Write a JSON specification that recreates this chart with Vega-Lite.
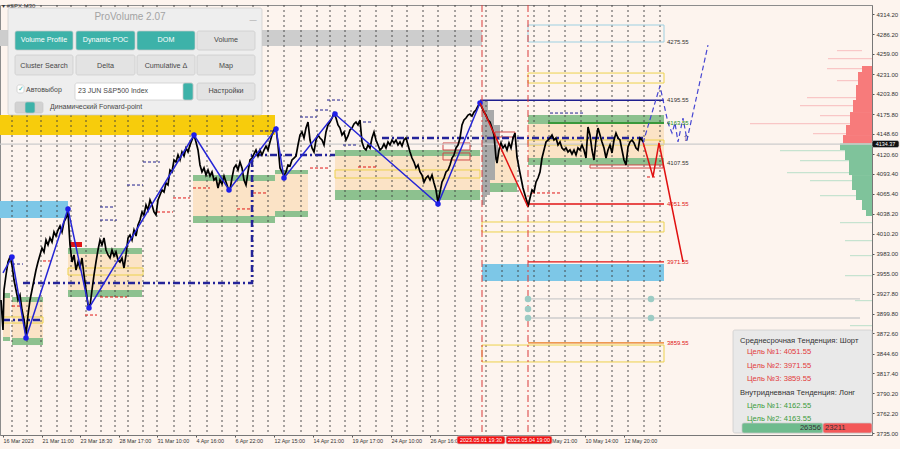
{
"$schema": "https://vega.github.io/schema/vega-lite/v6.json",
"width": 872, "height": 430,
"autosize": {"type": "none"},
"padding": {"left": 0, "top": 5, "right": 28, "bottom": 14},
"background": "#FDF4EE",
"config": {"view": {"stroke": "#8C8C8C", "strokeWidth": 1}, "text": {"font": "Liberation Sans"}, "axis": {"labelOverlap": false}, "axisY": {"labelOverlap": false}, "axisRight": {"labelOverlap": false}},
"datasets": {
"price": [{"x":1,"p":3918.9},{"x":3,"p":3877.4},{"x":4,"p":3932.7},{"x":6,"p":3953.4},{"x":8,"p":3971.4},{"x":10,"p":3978.3},{"x":12,"p":3967.3},{"x":14,"p":3946.5},{"x":16,"p":3932.7},{"x":18,"p":3918.9},{"x":20,"p":3925.8},{"x":22,"p":3905.0},{"x":24,"p":3891.2},{"x":26,"p":3870.5},{"x":28,"p":3898.1},{"x":30,"p":3918.9},{"x":32,"p":3932.7},{"x":34,"p":3946.5},{"x":36,"p":3960.3},{"x":38,"p":3971.4},{"x":40,"p":3981.1},{"x":42,"p":3990.7},{"x":44,"p":3985.2},{"x":46,"p":4001.8},{"x":48,"p":3994.9},{"x":50,"p":4004.6},{"x":52,"p":3999.0},{"x":54,"p":4012.9},{"x":56,"p":4007.3},{"x":58,"p":4015.6},{"x":60,"p":4021.1},{"x":62,"p":4012.9},{"x":64,"p":4026.7},{"x":66,"p":4032.2},{"x":68,"p":4040.5},{"x":70,"p":3994.9},{"x":72,"p":3971.4},{"x":74,"p":3981.1},{"x":76,"p":3960.3},{"x":78,"p":3971.4},{"x":80,"p":3963.1},{"x":82,"p":3976.9},{"x":84,"p":3953.4},{"x":86,"p":3932.7},{"x":88,"p":3911.9},{"x":90,"p":3910.5},{"x":92,"p":3932.7},{"x":94,"p":3953.4},{"x":96,"p":3971.4},{"x":98,"p":3988.0},{"x":100,"p":4001.8},{"x":102,"p":3994.9},{"x":104,"p":4004.6},{"x":106,"p":3988.0},{"x":108,"p":3981.1},{"x":110,"p":3976.9},{"x":112,"p":3988.0},{"x":114,"p":3979.7},{"x":116,"p":3985.2},{"x":118,"p":3974.2},{"x":120,"p":3971.4},{"x":122,"p":3976.9},{"x":124,"p":3963.1},{"x":126,"p":3981.1},{"x":128,"p":4004.6},{"x":130,"p":4008.7},{"x":132,"p":4001.8},{"x":134,"p":4015.6},{"x":136,"p":4007.3},{"x":138,"p":4022.5},{"x":140,"p":4029.5},{"x":142,"p":4040.5},{"x":144,"p":4036.4},{"x":146,"p":4050.2},{"x":148,"p":4043.3},{"x":150,"p":4057.1},{"x":152,"p":4050.2},{"x":154,"p":4040.5},{"x":156,"p":4036.4},{"x":158,"p":4057.1},{"x":160,"p":4064.0},{"x":162,"p":4070.9},{"x":164,"p":4068.2},{"x":166,"p":4080.6},{"x":168,"p":4077.8},{"x":170,"p":4098.6},{"x":172,"p":4095.8},{"x":174,"p":4112.4},{"x":176,"p":4109.6},{"x":178,"p":4119.3},{"x":180,"p":4112.4},{"x":182,"p":4123.5},{"x":184,"p":4117.9},{"x":186,"p":4129.0},{"x":188,"p":4123.5},{"x":190,"p":4133.1},{"x":192,"p":4140.0},{"x":194,"p":4146.9},{"x":196,"p":4137.3},{"x":198,"p":4126.2},{"x":200,"p":4105.5},{"x":202,"p":4095.8},{"x":204,"p":4101.4},{"x":206,"p":4091.6},{"x":208,"p":4098.6},{"x":210,"p":4090.3},{"x":212,"p":4095.8},{"x":214,"p":4084.7},{"x":216,"p":4087.5},{"x":218,"p":4073.7},{"x":220,"p":4084.7},{"x":222,"p":4079.2},{"x":224,"p":4090.3},{"x":226,"p":4081.9},{"x":228,"p":4073.7},{"x":230,"p":4070.9},{"x":232,"p":4087.5},{"x":234,"p":4101.4},{"x":236,"p":4105.5},{"x":238,"p":4098.6},{"x":240,"p":4109.6},{"x":242,"p":4101.4},{"x":244,"p":4084.7},{"x":246,"p":4077.8},{"x":248,"p":4095.8},{"x":250,"p":4112.4},{"x":252,"p":4115.1},{"x":254,"p":4120.7},{"x":256,"p":4126.2},{"x":258,"p":4117.9},{"x":260,"p":4126.2},{"x":262,"p":4119.3},{"x":264,"p":4126.2},{"x":266,"p":4131.7},{"x":268,"p":4126.2},{"x":270,"p":4137.3},{"x":272,"p":4146.9},{"x":274,"p":4153.9},{"x":276,"p":4156.6},{"x":278,"p":4133.1},{"x":280,"p":4101.4},{"x":282,"p":4095.8},{"x":284,"p":4090.3},{"x":286,"p":4095.8},{"x":288,"p":4105.5},{"x":290,"p":4104.1},{"x":292,"p":4112.4},{"x":294,"p":4115.1},{"x":296,"p":4117.9},{"x":298,"p":4133.1},{"x":300,"p":4146.9},{"x":302,"p":4151.1},{"x":304,"p":4142.8},{"x":306,"p":4156.6},{"x":308,"p":4164.9},{"x":310,"p":4140.0},{"x":312,"p":4129.0},{"x":314,"p":4123.5},{"x":316,"p":4140.0},{"x":318,"p":4146.9},{"x":320,"p":4142.8},{"x":322,"p":4140.0},{"x":324,"p":4133.1},{"x":326,"p":4151.1},{"x":328,"p":4160.8},{"x":330,"p":4164.9},{"x":332,"p":4170.4},{"x":334,"p":4177.3},{"x":336,"p":4170.4},{"x":338,"p":4160.8},{"x":340,"p":4156.6},{"x":342,"p":4146.9},{"x":344,"p":4151.1},{"x":346,"p":4140.0},{"x":348,"p":4145.6},{"x":350,"p":4153.9},{"x":352,"p":4156.6},{"x":354,"p":4162.2},{"x":356,"p":4164.9},{"x":358,"p":4160.8},{"x":360,"p":4167.7},{"x":362,"p":4137.3},{"x":364,"p":4129.0},{"x":366,"p":4126.2},{"x":368,"p":4133.1},{"x":370,"p":4129.0},{"x":372,"p":4142.8},{"x":374,"p":4151.1},{"x":376,"p":4140.0},{"x":378,"p":4133.1},{"x":380,"p":4126.2},{"x":382,"p":4129.0},{"x":384,"p":4134.5},{"x":386,"p":4129.0},{"x":388,"p":4137.3},{"x":390,"p":4133.1},{"x":392,"p":4140.0},{"x":394,"p":4135.9},{"x":396,"p":4140.0},{"x":398,"p":4133.1},{"x":400,"p":4137.3},{"x":402,"p":4131.7},{"x":404,"p":4140.0},{"x":406,"p":4142.8},{"x":408,"p":4133.1},{"x":410,"p":4123.5},{"x":412,"p":4115.1},{"x":414,"p":4109.6},{"x":416,"p":4101.4},{"x":418,"p":4105.5},{"x":420,"p":4095.8},{"x":422,"p":4091.6},{"x":424,"p":4081.9},{"x":426,"p":4087.5},{"x":428,"p":4090.3},{"x":430,"p":4084.7},{"x":432,"p":4091.6},{"x":434,"p":4080.6},{"x":436,"p":4070.9},{"x":438,"p":4053.0},{"x":440,"p":4068.2},{"x":442,"p":4081.9},{"x":444,"p":4087.5},{"x":446,"p":4095.8},{"x":448,"p":4098.6},{"x":450,"p":4105.5},{"x":452,"p":4115.1},{"x":454,"p":4119.3},{"x":456,"p":4129.0},{"x":458,"p":4133.1},{"x":460,"p":4142.8},{"x":462,"p":4160.8},{"x":464,"p":4167.7},{"x":466,"p":4170.4},{"x":468,"p":4174.5},{"x":470,"p":4175.9},{"x":472,"p":4173.2},{"x":474,"p":4178.7},{"x":476,"p":4181.5},{"x":478,"p":4187.0},{"x":480,"p":4191.2},{"x":482,"p":4184.3},{"x":484,"p":4178.7},{"x":486,"p":4174.5},{"x":488,"p":4167.7},{"x":490,"p":4164.9},{"x":492,"p":4156.6},{"x":494,"p":4146.9},{"x":496,"p":4115.1},{"x":497,"p":4108.2},{"x":499,"p":4126.2},{"x":501,"p":4135.9},{"x":503,"p":4129.0},{"x":505,"p":4133.1},{"x":507,"p":4126.2},{"x":509,"p":4135.9},{"x":511,"p":4129.0},{"x":513,"p":4142.8},{"x":515,"p":4149.7},{"x":517,"p":4116.5},{"x":519,"p":4101.4},{"x":521,"p":4087.5},{"x":523,"p":4073.7},{"x":525,"p":4064.0},{"x":527,"p":4054.3},{"x":528,"p":4047.4},{"x":530,"p":4059.9},{"x":532,"p":4070.9},{"x":534,"p":4068.2},{"x":536,"p":4081.9},{"x":538,"p":4087.5},{"x":540,"p":4095.8},{"x":542,"p":4115.1},{"x":544,"p":4126.2},{"x":546,"p":4137.3},{"x":548,"p":4140.0},{"x":550,"p":4142.8},{"x":552,"p":4146.9},{"x":554,"p":4140.0},{"x":556,"p":4142.8},{"x":558,"p":4133.1},{"x":560,"p":4137.3},{"x":562,"p":4129.0},{"x":564,"p":4126.2},{"x":566,"p":4129.0},{"x":568,"p":4123.5},{"x":570,"p":4126.2},{"x":572,"p":4120.7},{"x":574,"p":4126.2},{"x":576,"p":4119.3},{"x":578,"p":4129.0},{"x":580,"p":4126.2},{"x":582,"p":4133.1},{"x":584,"p":4126.2},{"x":586,"p":4115.1},{"x":588,"p":4158.0},{"x":590,"p":4146.9},{"x":592,"p":4126.2},{"x":594,"p":4112.4},{"x":596,"p":4140.0},{"x":598,"p":4156.6},{"x":600,"p":4146.9},{"x":602,"p":4137.3},{"x":604,"p":4129.0},{"x":606,"p":4115.1},{"x":608,"p":4126.2},{"x":610,"p":4133.1},{"x":612,"p":4122.1},{"x":614,"p":4140.0},{"x":616,"p":4149.7},{"x":618,"p":4142.8},{"x":620,"p":4140.0},{"x":622,"p":4126.2},{"x":624,"p":4112.4},{"x":626,"p":4105.5},{"x":628,"p":4130.4},{"x":630,"p":4137.3},{"x":632,"p":4140.0},{"x":634,"p":4135.9},{"x":636,"p":4129.0},{"x":638,"p":4126.2},{"x":640,"p":4142.8},{"x":642,"p":4140.0},{"x":643,"p":4137.3}],
"zig": [{"x":3,"p":3956.2},{"x":12,"p":3978.3},{"x":26,"p":3866.3},{"x":68,"p":4044.7},{"x":89,"p":3907.8},{"x":194,"p":4146.9},{"x":229,"p":4070.9},{"x":276,"p":4155.2},{"x":284,"p":4087.5},{"x":335,"p":4175.9},{"x":438,"p":4051.6},{"x":480,"p":4191.2}],
"redzz": [{"seg":"a","x":480,"p":4191.2},{"seg":"a","x":528,"p":4047.4},{"seg":"b","x":643,"p":4137.3},{"seg":"b","x":653,"p":4088.9},{"seg":"b","x":659,"p":4135.9},{"seg":"b","x":683,"p":3971.4}],
"bluefc": [{"x":643,"p":4135.9},{"x":660,"p":4214.7},{"x":668,"p":4163.6},{"x":672,"p":4149.7},{"x":675,"p":4163.6},{"x":678,"p":4137.3},{"x":683,"p":4170.4},{"x":687,"p":4140.0},{"x":708,"p":4271.3}],
"navydd": [{"i":1,"seg":"a","x":23,"p":3942.4},{"i":2,"seg":"a","x":252,"p":3942.4},{"i":3,"seg":"a","x":252,"p":4119.3},{"i":4,"seg":"a","x":335,"p":4119.3},{"i":5,"seg":"d","x":382,"p":4142.8},{"i":6,"seg":"d","x":643,"p":4142.8},{"i":7,"seg":"e","x":3,"p":3891.2},{"i":8,"seg":"e","x":40,"p":3891.2}],
"vgrid": [{"x":12},{"x":27},{"x":41},{"x":57},{"x":71},{"x":86},{"x":101},{"x":115},{"x":128},{"x":143},{"x":157},{"x":174},{"x":190},{"x":207},{"x":222},{"x":237},{"x":253},{"x":268},{"x":284},{"x":301},{"x":317},{"x":330},{"x":345},{"x":360},{"x":376},{"x":392},{"x":407},{"x":423},{"x":438},{"x":455},{"x":471},{"x":486},{"x":502},{"x":518},{"x":534},{"x":549},{"x":565},{"x":581},{"x":597},{"x":612},{"x":628},{"x":644},{"x":660}],
"redv": [{"x":482},{"x":528}],
"bands": [
{"x":12,"x2":43,"p":3916.1,"p2":3866.3,"kind":"beige"},{"x":3,"x2":10,"p":3921.6,"p2":3867.7,"kind":"beige"},{"x":68,"x2":142,"p":3982.4,"p2":3932.7,"kind":"beige"},{"x":193,"x2":275,"p":4083.4,"p2":4035.0,"kind":"beige"},{"x":275,"x2":308,"p":4093.0,"p2":4041.9,"kind":"beige"},{"x":335,"x2":480,"p":4117.9,"p2":4070.9,"kind":"beige"},{"x":483,"x2":517,"p":4126.2,"p2":4080.6,"kind":"beige"},{"x":528,"x2":664,"p":4162.2,"p2":4115.1,"kind":"beige"},
{"x":3,"x2":10,"p":3928.5,"p2":3921.6,"kind":"green"},{"x":12,"x2":43,"p":3923.0,"p2":3916.1,"kind":"green"},{"x":3,"x2":10,"p":3867.7,"p2":3862.2,"kind":"green"},{"x":12,"x2":43,"p":3866.3,"p2":3856.6,"kind":"green"},{"x":68,"x2":142,"p":3990.7,"p2":3982.4,"kind":"green"},{"x":68,"x2":142,"p":3932.7,"p2":3923.0,"kind":"green"},{"x":193,"x2":275,"p":4091.6,"p2":4083.4,"kind":"green"},{"x":275,"x2":308,"p":4098.6,"p2":4093.0,"kind":"green"},{"x":193,"x2":275,"p":4035.0,"p2":4025.3,"kind":"green"},{"x":275,"x2":308,"p":4041.9,"p2":4033.6,"kind":"green"},{"x":335,"x2":480,"p":4126.2,"p2":4117.9,"kind":"green"},{"x":335,"x2":480,"p":4070.9,"p2":4057.1,"kind":"green"},{"x":483,"x2":517,"p":4080.6,"p2":4068.2,"kind":"green"},{"x":528,"x2":664,"p":4174.6,"p2":4162.2,"kind":"green"},{"x":528,"x2":664,"p":4115.1,"p2":4105.5,"kind":"green"},
{"x":0,"x2":275,"p":4174.6,"p2":4146.9,"kind":"gold"},{"x":0,"x2":482,"p":4292.1,"p2":4270.0,"kind":"gray"},{"x":0,"x2":68,"p":4055.7,"p2":4032.2,"kind":"sky"},{"x":482,"x2":664,"p":3968.6,"p2":3945.1,"kind":"sky"},
{"x":482,"x2":488,"p":4195.3,"p2":4181.5,"kind":"profile"},{"x":482,"x2":494,"p":4181.5,"p2":4160.8,"kind":"profile"},{"x":482,"x2":500,"p":4160.8,"p2":4140.0,"kind":"profile"},{"x":482,"x2":498,"p":4140.0,"p2":4112.4,"kind":"profile"},{"x":482,"x2":495,"p":4112.4,"p2":4084.7,"kind":"profile"},{"x":482,"x2":490,"p":4084.7,"p2":4064.0,"kind":"profile"},{"x":482,"x2":485,"p":4064.0,"p2":4050.2,"kind":"profile"},
{"x":70,"x2":82,"p":3999.0,"p2":3992.1,"kind":"red"},
{"x":837,"x2":862,"p":4264.4,"p2":4262.8,"kind":"histredf"},{"x":828,"x2":872,"p":4253.4,"p2":4251.7,"kind":"histredf"},{"x":827,"x2":862,"p":4239.6,"p2":4237.9,"kind":"histredf"},{"x":837,"x2":858,"p":4223.0,"p2":4221.3,"kind":"histredf"},{"x":807,"x2":856,"p":4199.5,"p2":4197.8,"kind":"histredf"},{"x":800,"x2":853,"p":4188.4,"p2":4186.7,"kind":"histredf"},{"x":820,"x2":850,"p":4174.6,"p2":4172.9,"kind":"histredf"},{"x":750,"x2":850,"p":4163.6,"p2":4161.9,"kind":"histredf"},{"x":813,"x2":846,"p":4149.7,"p2":4148.0,"kind":"histredf"},
{"x":780,"x2":845,"p":4126.2,"p2":4124.5,"kind":"histgreenf"},{"x":800,"x2":849,"p":4112.4,"p2":4110.7,"kind":"histgreenf"},{"x":787,"x2":852,"p":4095.8,"p2":4094.1,"kind":"histgreenf"},{"x":810,"x2":852,"p":4084.7,"p2":4083.0,"kind":"histgreenf"},{"x":820,"x2":856,"p":4064.0,"p2":4062.3,"kind":"histgreenf"},{"x":840,"x2":872,"p":4026.7,"p2":4025.0,"kind":"histgreenf"},{"x":845,"x2":872,"p":4001.8,"p2":4000.1,"kind":"histgreenf"},{"x":850,"x2":872,"p":3981.1,"p2":3979.4,"kind":"histgreenf"},{"x":845,"x2":872,"p":3953.4,"p2":3951.7,"kind":"histgreenf"},{"x":855,"x2":872,"p":3918.9,"p2":3917.2,"kind":"histgreenf"},{"x":850,"x2":872,"p":3884.3,"p2":3882.6,"kind":"histgreenf"},{"x":855,"x2":872,"p":3849.8,"p2":3848.1,"kind":"histgreenf"},
{"x":862,"x2":872,"p":4242.3,"p2":4234.0,"kind":"histred"},{"x":858,"x2":872,"p":4234.0,"p2":4216.1,"kind":"histred"},{"x":856,"x2":872,"p":4216.1,"p2":4195.3,"kind":"histred"},{"x":853,"x2":872,"p":4195.3,"p2":4178.7,"kind":"histred"},{"x":850,"x2":872,"p":4178.7,"p2":4160.8,"kind":"histred"},{"x":846,"x2":872,"p":4160.8,"p2":4146.9,"kind":"histred"},{"x":843,"x2":872,"p":4146.9,"p2":4135.2,"kind":"histred"},
{"x":840,"x2":872,"p":4135.2,"p2":4126.2,"kind":"histgreen"},{"x":845,"x2":872,"p":4126.2,"p2":4112.4,"kind":"histgreen"},{"x":849,"x2":872,"p":4112.4,"p2":4091.6,"kind":"histgreen"},{"x":852,"x2":872,"p":4091.6,"p2":4070.9,"kind":"histgreen"},{"x":856,"x2":872,"p":4070.9,"p2":4057.1,"kind":"histgreen"},{"x":862,"x2":872,"p":4057.1,"p2":4043.3,"kind":"histgreen"},{"x":866,"x2":872,"p":4043.3,"p2":4035.0,"kind":"histgreen"}
],
"outlines": [
{"x":3,"x2":43,"p":3895.4,"p2":3887.0,"kind":"yellowline"},{"x":68,"x2":143,"p":3963.1,"p2":3953.4,"kind":"yellowline"},{"x":335,"x2":480,"p":4098.6,"p2":4087.5,"kind":"yellowline"},{"x":528,"x2":664,"p":4140.0,"p2":4133.1,"kind":"yellowline"},{"x":482,"x2":664,"p":4026.7,"p2":4012.9,"kind":"yellowline"},{"x":528,"x2":664,"p":4232.6,"p2":4218.8,"kind":"yellowline"},{"x":482,"x2":664,"p":3856.6,"p2":3833.2,"kind":"yellowline"},
{"x":528,"x2":664,"p":4299.0,"p2":4275.5,"kind":"skyline"},
{"x":443,"x2":470,"p":4135.9,"p2":4126.2,"kind":"redbox"},{"x":443,"x2":470,"p":4122.1,"p2":4112.4,"kind":"redbox"},{"x":495,"x2":515,"p":4151.1,"p2":4144.2,"kind":"redbox"},{"x":590,"x2":663,"p":4105.5,"p2":4101.3,"kind":"redbox"}
],
"levels": [
{"x":0,"x2":872,"p":4134.37,"kind":"lightline"},{"x":528,"x2":860,"p":3920.3,"kind":"lightline"},{"x":528,"x2":860,"p":3894.0,"kind":"lightline"},
{"x":480,"x2":664,"p":4195.0,"kind":"navy"},{"x":548,"x2":664,"p":4163.55,"kind":"dkgreen"},{"x":528,"x2":664,"p":4051.55,"kind":"red"},{"x":528,"x2":664,"p":3971.55,"kind":"red"},{"x":528,"x2":664,"p":3859.55,"kind":"orange"}
],
"dashes": [
{"x":12,"x2":23,"p":3968.6,"kind":"navy"},{"x":100,"x2":113,"p":4047.4,"kind":"navy"},{"x":100,"x2":117,"p":4029.4,"kind":"navy"},{"x":127,"x2":143,"p":4077.8,"kind":"navy"},{"x":143,"x2":160,"p":4109.6,"kind":"navy"},{"x":300,"x2":317,"p":4171.8,"kind":"navy"},{"x":260,"x2":277,"p":4152.5,"kind":"navy"},{"x":327,"x2":343,"p":4195.3,"kind":"navy"},{"x":315,"x2":330,"p":4181.5,"kind":"navy"},{"x":358,"x2":373,"p":4164.9,"kind":"navy"},{"x":343,"x2":358,"p":4133.1,"kind":"navy"},{"x":550,"x2":585,"p":4177.3,"kind":"navy"},
{"x":12,"x2":20,"p":3910.5,"kind":"red"},{"x":43,"x2":53,"p":3972.8,"kind":"red"},{"x":100,"x2":127,"p":3923.0,"kind":"red"},{"x":85,"x2":97,"p":3898.1,"kind":"red"},{"x":173,"x2":190,"p":4059.9,"kind":"red"},{"x":157,"x2":173,"p":4040.5,"kind":"red"},{"x":193,"x2":210,"p":4073.7,"kind":"red"},{"x":237,"x2":252,"p":4044.7,"kind":"red"},{"x":253,"x2":267,"p":4066.8,"kind":"red"},{"x":358,"x2":377,"p":4102.7,"kind":"red"},{"x":310,"x2":330,"p":4101.3,"kind":"red"},{"x":532,"x2":560,"p":4066.8,"kind":"red"},{"x":647,"x2":657,"p":4088.9,"kind":"red"}
],
"tealdots": [{"x":528,"p":3920.3},{"x":528,"p":3906.4},{"x":528,"p":3894.0},{"x":651,"p":3920.3},{"x":651,"p":3894.0}],
"lvlabels": [
{"x":667,"p":4275.55,"label":"4275.55","kind":"dark"},{"x":667,"p":4195.55,"label":"4195.55","kind":"dark"},{"x":667,"p":4163.55,"label":"4163.55","kind":"dkgreen"},{"x":667,"p":4107.55,"label":"4107.55","kind":"dark"},{"x":667,"p":4051.55,"label":"4051.55","kind":"red"},{"x":667,"p":3971.55,"label":"3971.55","kind":"red"},{"x":667,"p":3859.55,"label":"3859.55","kind":"red"},
{"x":2,"p":4325.3,"label":"▾ #SPX.M30","kind":"dark"}
],
"prects": [
{"x":8,"x2":262,"p":4322.5,"p2":4174.6,"kind":"panel"},
{"x":15,"x2":73,"p":4290.7,"p2":4264.4,"kind":"teal"},{"x":76,"x2":135,"p":4290.7,"p2":4264.4,"kind":"teal"},{"x":137,"x2":195,"p":4290.7,"p2":4264.4,"kind":"teal"},{"x":197,"x2":255,"p":4290.7,"p2":4264.4,"kind":"btn"},
{"x":15,"x2":73,"p":4257.5,"p2":4229.9,"kind":"btn"},{"x":76,"x2":135,"p":4257.5,"p2":4229.9,"kind":"btn"},{"x":137,"x2":195,"p":4257.5,"p2":4229.9,"kind":"btn"},{"x":197,"x2":255,"p":4257.5,"p2":4229.9,"kind":"btn"},
{"x":75,"x2":193,"p":4218.8,"p2":4195.3,"kind":"white"},{"x":183,"x2":193,"p":4218.8,"p2":4195.3,"kind":"teal"},{"x":197,"x2":255,"p":4218.8,"p2":4195.3,"kind":"btn"},
{"x":17,"x2":24,"p":4216.1,"p2":4205.0,"kind":"white"},{"x":15,"x2":43,"p":4192.6,"p2":4177.3,"kind":"panelbar"},{"x":25,"x2":35,"p":4192.6,"p2":4177.3,"kind":"teal"},
{"x":733,"x2":872,"p":3877.4,"p2":3735.0,"kind":"infobox"},{"x":742,"x2":823,"p":3748.8,"p2":3735.0,"kind":"bargreen"},{"x":823,"x2":872,"p":3748.8,"p2":3735.0,"kind":"barred"},
{"x":872,"x2":899,"p":4139.3,"p2":4129.7,"kind":"black"},
{"x":457,"x2":505,"p":3730.9,"p2":3719.8,"kind":"redlabel"},{"x":506,"x2":552,"p":3730.9,"p2":3719.8,"kind":"redlabel"}
],
"ptitle": [{"x":130,"p":4310.0,"label":"ProVolume 2.07","kind":"titletext"}],
"pbtn": [
{"x":44,"p":4277.6,"label":"Volume Profile","kind":"whitetext"},{"x":105.5,"p":4277.6,"label":"Dynamic POC","kind":"whitetext"},{"x":166,"p":4277.6,"label":"DOM","kind":"whitetext"},{"x":226,"p":4278.5,"label":"Volume","kind":"btntext"},
{"x":44,"p":4243.0,"label":"Cluster Search","kind":"btntext"},{"x":105.5,"p":4243.0,"label":"Delta","kind":"btntext"},{"x":166,"p":4243.0,"label":"Cumulative Δ","kind":"btntext"},{"x":226,"p":4243.0,"label":"Map","kind":"btntext"},
{"x":226,"p":4207.1,"label":"Настройки","kind":"btntext"},{"x":20.5,"p":4211.0,"label":"✓","kind":"teal"},{"x":253,"p":4305.9,"label":"—","kind":"titletext"}
],
"pleft": [
{"x":26,"p":4209.1,"label":"Автовыбор","kind":"btntext"},{"x":78,"p":4207.1,"label":"23 JUN S&P500 Index","kind":"btntext"},{"x":50,"p":4185.0,"label":"Динамический Forward-point","kind":"btntext"}
],
"info": [
{"x":740,"p":3862.6,"label":"Среднесрочная Тенденция: Шорт","kind":"dark"},{"x":747,"p":3847.4,"label":"Цель №1: 4051.55","kind":"infored"},{"x":747,"p":3828.0,"label":"Цель №2: 3971.55","kind":"infored"},{"x":747,"p":3809.2,"label":"Цель №3: 3859.55","kind":"infored"},{"x":740,"p":3789.9,"label":"Внутридневная Тенденция: Лонг","kind":"dark"},{"x":747,"p":3772.7,"label":"Цель №1: 4162.55","kind":"infogreen"},{"x":747,"p":3753.9,"label":"Цель №2: 4163.55","kind":"infogreen"},{"x":825,"p":3741.6,"label":"23211","kind":"dark"}
],
"inforight": [{"x":821,"p":3741.6,"label":"26356","kind":"dark"}],
"ctext": [{"x":885.5,"p":4134.6,"label":"4134.37","kind":"whitetext"},{"x":481,"p":3725.3,"label":"2023.05.01 19:30","kind":"whitetext"},{"x":529,"p":3725.3,"label":"2023.05.04 19:00","kind":"whitetext"}],
"arrow": [{"x":686,"p":4141.0,"label":"⇧","kind":"navy"}]
},
"encoding": {
"x": {"field": "x", "type": "quantitative", "scale": {"domain": [0, 872], "nice": false, "zero": false},
 "axis": {"title": null, "grid": false, "values": [3,42,80,119,157,196,235,274,313,352,391,430,547,585,624],
  "labelExpr": "['16 Mar 2023','21 Mar 11:00','23 Mar 18:30','28 Mar 17:00','31 Mar 10:00','4 Apr 16:00','6 Apr 22:00','12 Apr 15:00','14 Apr 21:00','19 Apr 17:00','24 Apr 10:00','26 Apr 16:00','8 May 21:00','10 May 14:00','12 May 20:00'][indexof([3,42,80,119,157,196,235,274,313,352,391,430,547,585,624], datum.value)]",
  "labelAlign": "left", "labelFlush": false, "labelOverlap": false, "labelFontSize": 5.4, "labelFont": "Liberation Sans", "labelColor": "#333333", "labelPadding": 1, "tickSize": 2, "tickColor": "#555555", "domainColor": "#777777"}},
"color": {"field": "kind", "type": "nominal", "legend": null, "scale": {
 "domain": ["gold","gray","sky","green","beige","profile","red","histred","histgreen","histredf","histgreenf","yellowline","skyline","redbox","navy","dkgreen","orange","lightline","dark","panel","teal","btn","white","panelbar","titletext","btntext","infobox","infored","infogreen","barred","bargreen","whitetext","redlabel","black"],
 "range": ["#F7CC0C","#CDCDCD","#7DC7E7","#8DC18F","#FBE3C6","#A9A9A9","#E01515","#F77B7B","#7FC39B","#F9C6C6","#C6E3D0","#EDD24C","#9DD0E2","#CF4B4B","#1E1E8E","#1E8A1E","#E87A1C","#CCCCCC","#333333","#EEEEEE","#3DB2A9","#E3E3E3","#FFFFFF","#D2D2D2","#A3A3A3","#474747","#E9E9E9","#E23A3A","#3B9B3B","#F35858","#6EBB8D","#FFFFFF","#F21212","#111111"]}}
},
"layer": [
{"data": {"name": "bands"}, "mark": {"type": "rect"}, "encoding": {"y": {"field": "p", "type": "quantitative", "scale": {"domain": [3732.24, 4326.65], "nice": false, "zero": false}, "axis": {"title": null, "orient": "right", "grid": false, "values": [4314.2,4286.2,4259.0,4231.0,4203.8,4175.8,4148.6,4120.6,4093.4,4065.4,4038.2,4010.2,3983.0,3955.0,3927.8,3899.8,3872.6,3844.6,3817.4,3790.2,3762.2,3735.0], "format": ".2f", "labelOverlap": false, "labelFlush": false, "labelFontSize": 6, "labelFont": "Liberation Sans", "labelColor": "#333333", "labelPadding": 2, "tickSize": 2, "tickColor": "#555555", "domainColor": "#777777"}}, "x2": {"field": "x2"}, "y2": {"field": "p2"}}},
{"data": {"name": "vgrid"}, "mark": {"type": "rule", "strokeDash": [2, 3], "strokeWidth": 0.9}, "encoding": {"color": {"value": "#3C3C3C"}}},
{"data": {"name": "outlines"}, "mark": {"type": "rect", "filled": false, "strokeWidth": 1}, "encoding": {"y": {"field": "p", "type": "quantitative", "scale": {"domain": [3732.24, 4326.65], "nice": false, "zero": false}, "axis": {"title": null, "orient": "right", "grid": false, "values": [4314.2,4286.2,4259.0,4231.0,4203.8,4175.8,4148.6,4120.6,4093.4,4065.4,4038.2,4010.2,3983.0,3955.0,3927.8,3899.8,3872.6,3844.6,3817.4,3790.2,3762.2,3735.0], "format": ".2f", "labelOverlap": false, "labelFlush": false, "labelFontSize": 6, "labelFont": "Liberation Sans", "labelColor": "#333333", "labelPadding": 2, "tickSize": 2, "tickColor": "#555555", "domainColor": "#777777"}}, "x2": {"field": "x2"}, "y2": {"field": "p2"}}},
{"data": {"name": "levels"}, "mark": {"type": "rule", "strokeWidth": 1.3}, "encoding": {"y": {"field": "p", "type": "quantitative", "scale": {"domain": [3732.24, 4326.65], "nice": false, "zero": false}, "axis": {"title": null, "orient": "right", "grid": false, "values": [4314.2,4286.2,4259.0,4231.0,4203.8,4175.8,4148.6,4120.6,4093.4,4065.4,4038.2,4010.2,3983.0,3955.0,3927.8,3899.8,3872.6,3844.6,3817.4,3790.2,3762.2,3735.0], "format": ".2f", "labelOverlap": false, "labelFlush": false, "labelFontSize": 6, "labelFont": "Liberation Sans", "labelColor": "#333333", "labelPadding": 2, "tickSize": 2, "tickColor": "#555555", "domainColor": "#777777"}}, "x2": {"field": "x2"}}},
{"data": {"name": "dashes"}, "mark": {"type": "rule", "strokeWidth": 1, "strokeDash": [3, 2]}, "encoding": {"y": {"field": "p", "type": "quantitative", "scale": {"domain": [3732.24, 4326.65], "nice": false, "zero": false}, "axis": {"title": null, "orient": "right", "grid": false, "values": [4314.2,4286.2,4259.0,4231.0,4203.8,4175.8,4148.6,4120.6,4093.4,4065.4,4038.2,4010.2,3983.0,3955.0,3927.8,3899.8,3872.6,3844.6,3817.4,3790.2,3762.2,3735.0], "format": ".2f", "labelOverlap": false, "labelFlush": false, "labelFontSize": 6, "labelFont": "Liberation Sans", "labelColor": "#333333", "labelPadding": 2, "tickSize": 2, "tickColor": "#555555", "domainColor": "#777777"}}, "x2": {"field": "x2"}}},
{"data": {"name": "navydd"}, "mark": {"type": "line", "strokeWidth": 2.5, "strokeDash": [7, 3, 2, 3]}, "encoding": {"y": {"field": "p", "type": "quantitative", "scale": {"domain": [3732.24, 4326.65], "nice": false, "zero": false}, "axis": {"title": null, "orient": "right", "grid": false, "values": [4314.2,4286.2,4259.0,4231.0,4203.8,4175.8,4148.6,4120.6,4093.4,4065.4,4038.2,4010.2,3983.0,3955.0,3927.8,3899.8,3872.6,3844.6,3817.4,3790.2,3762.2,3735.0], "format": ".2f", "labelOverlap": false, "labelFlush": false, "labelFontSize": 6, "labelFont": "Liberation Sans", "labelColor": "#333333", "labelPadding": 2, "tickSize": 2, "tickColor": "#555555", "domainColor": "#777777"}}, "detail": {"field": "seg"}, "order": {"field": "i"}, "color": {"value": "#24249A"}}},
{"data": {"name": "redv"}, "mark": {"type": "rule", "strokeWidth": 1, "strokeDash": [7, 3, 2, 3]}, "encoding": {"color": {"value": "#D93A3A"}}},
{"data": {"name": "price"}, "mark": {"type": "line", "strokeWidth": 1.7}, "encoding": {"y": {"field": "p", "type": "quantitative", "scale": {"domain": [3732.24, 4326.65], "nice": false, "zero": false}, "axis": {"title": null, "orient": "right", "grid": false, "values": [4314.2,4286.2,4259.0,4231.0,4203.8,4175.8,4148.6,4120.6,4093.4,4065.4,4038.2,4010.2,3983.0,3955.0,3927.8,3899.8,3872.6,3844.6,3817.4,3790.2,3762.2,3735.0], "format": ".2f", "labelOverlap": false, "labelFlush": false, "labelFontSize": 6, "labelFont": "Liberation Sans", "labelColor": "#333333", "labelPadding": 2, "tickSize": 2, "tickColor": "#555555", "domainColor": "#777777"}}, "color": {"value": "#000000"}}},
{"data": {"name": "zig"}, "mark": {"type": "line", "strokeWidth": 1.5}, "encoding": {"y": {"field": "p", "type": "quantitative", "scale": {"domain": [3732.24, 4326.65], "nice": false, "zero": false}, "axis": {"title": null, "orient": "right", "grid": false, "values": [4314.2,4286.2,4259.0,4231.0,4203.8,4175.8,4148.6,4120.6,4093.4,4065.4,4038.2,4010.2,3983.0,3955.0,3927.8,3899.8,3872.6,3844.6,3817.4,3790.2,3762.2,3735.0], "format": ".2f", "labelOverlap": false, "labelFlush": false, "labelFontSize": 6, "labelFont": "Liberation Sans", "labelColor": "#333333", "labelPadding": 2, "tickSize": 2, "tickColor": "#555555", "domainColor": "#777777"}}, "color": {"value": "#2626D6"}}},
{"data": {"name": "zig"}, "transform": [{"filter": "datum.x > 5"}], "mark": {"type": "point", "filled": true, "size": 30, "opacity": 1}, "encoding": {"y": {"field": "p", "type": "quantitative", "scale": {"domain": [3732.24, 4326.65], "nice": false, "zero": false}, "axis": {"title": null, "orient": "right", "grid": false, "values": [4314.2,4286.2,4259.0,4231.0,4203.8,4175.8,4148.6,4120.6,4093.4,4065.4,4038.2,4010.2,3983.0,3955.0,3927.8,3899.8,3872.6,3844.6,3817.4,3790.2,3762.2,3735.0], "format": ".2f", "labelOverlap": false, "labelFlush": false, "labelFontSize": 6, "labelFont": "Liberation Sans", "labelColor": "#333333", "labelPadding": 2, "tickSize": 2, "tickColor": "#555555", "domainColor": "#777777"}}, "color": {"value": "#1F1FE8"}}},
{"data": {"name": "redzz"}, "mark": {"type": "line", "strokeWidth": 1.5}, "encoding": {"y": {"field": "p", "type": "quantitative", "scale": {"domain": [3732.24, 4326.65], "nice": false, "zero": false}, "axis": {"title": null, "orient": "right", "grid": false, "values": [4314.2,4286.2,4259.0,4231.0,4203.8,4175.8,4148.6,4120.6,4093.4,4065.4,4038.2,4010.2,3983.0,3955.0,3927.8,3899.8,3872.6,3844.6,3817.4,3790.2,3762.2,3735.0], "format": ".2f", "labelOverlap": false, "labelFlush": false, "labelFontSize": 6, "labelFont": "Liberation Sans", "labelColor": "#333333", "labelPadding": 2, "tickSize": 2, "tickColor": "#555555", "domainColor": "#777777"}}, "detail": {"field": "seg"}, "color": {"value": "#E01010"}}},
{"data": {"name": "bluefc"}, "mark": {"type": "line", "strokeWidth": 1.2, "strokeDash": [5, 3]}, "encoding": {"y": {"field": "p", "type": "quantitative", "scale": {"domain": [3732.24, 4326.65], "nice": false, "zero": false}, "axis": {"title": null, "orient": "right", "grid": false, "values": [4314.2,4286.2,4259.0,4231.0,4203.8,4175.8,4148.6,4120.6,4093.4,4065.4,4038.2,4010.2,3983.0,3955.0,3927.8,3899.8,3872.6,3844.6,3817.4,3790.2,3762.2,3735.0], "format": ".2f", "labelOverlap": false, "labelFlush": false, "labelFontSize": 6, "labelFont": "Liberation Sans", "labelColor": "#333333", "labelPadding": 2, "tickSize": 2, "tickColor": "#555555", "domainColor": "#777777"}}, "color": {"value": "#4646D2"}}},
{"data": {"name": "tealdots"}, "mark": {"type": "point", "filled": true, "size": 42, "opacity": 1}, "encoding": {"y": {"field": "p", "type": "quantitative", "scale": {"domain": [3732.24, 4326.65], "nice": false, "zero": false}, "axis": {"title": null, "orient": "right", "grid": false, "values": [4314.2,4286.2,4259.0,4231.0,4203.8,4175.8,4148.6,4120.6,4093.4,4065.4,4038.2,4010.2,3983.0,3955.0,3927.8,3899.8,3872.6,3844.6,3817.4,3790.2,3762.2,3735.0], "format": ".2f", "labelOverlap": false, "labelFlush": false, "labelFontSize": 6, "labelFont": "Liberation Sans", "labelColor": "#333333", "labelPadding": 2, "tickSize": 2, "tickColor": "#555555", "domainColor": "#777777"}}, "color": {"value": "#9CCBC4"}}},
{"data": {"name": "lvlabels"}, "mark": {"type": "text", "align": "left", "fontSize": 6, "font": "Liberation Sans"}, "encoding": {"y": {"field": "p", "type": "quantitative", "scale": {"domain": [3732.24, 4326.65], "nice": false, "zero": false}, "axis": {"title": null, "orient": "right", "grid": false, "values": [4314.2,4286.2,4259.0,4231.0,4203.8,4175.8,4148.6,4120.6,4093.4,4065.4,4038.2,4010.2,3983.0,3955.0,3927.8,3899.8,3872.6,3844.6,3817.4,3790.2,3762.2,3735.0], "format": ".2f", "labelOverlap": false, "labelFlush": false, "labelFontSize": 6, "labelFont": "Liberation Sans", "labelColor": "#333333", "labelPadding": 2, "tickSize": 2, "tickColor": "#555555", "domainColor": "#777777"}}, "text": {"field": "label"}}},
{"data": {"name": "arrow"}, "mark": {"type": "text", "align": "center", "fontSize": 8, "font": "DejaVu Sans"}, "encoding": {"y": {"field": "p", "type": "quantitative", "scale": {"domain": [3732.24, 4326.65], "nice": false, "zero": false}, "axis": {"title": null, "orient": "right", "grid": false, "values": [4314.2,4286.2,4259.0,4231.0,4203.8,4175.8,4148.6,4120.6,4093.4,4065.4,4038.2,4010.2,3983.0,3955.0,3927.8,3899.8,3872.6,3844.6,3817.4,3790.2,3762.2,3735.0], "format": ".2f", "labelOverlap": false, "labelFlush": false, "labelFontSize": 6, "labelFont": "Liberation Sans", "labelColor": "#333333", "labelPadding": 2, "tickSize": 2, "tickColor": "#555555", "domainColor": "#777777"}}, "text": {"field": "label"}}},
{"data": {"name": "prects"}, "mark": {"type": "rect", "stroke": "#C9C9C9", "strokeWidth": 0.7, "cornerRadius": 2}, "encoding": {"y": {"field": "p", "type": "quantitative", "scale": {"domain": [3732.24, 4326.65], "nice": false, "zero": false}, "axis": {"title": null, "orient": "right", "grid": false, "values": [4314.2,4286.2,4259.0,4231.0,4203.8,4175.8,4148.6,4120.6,4093.4,4065.4,4038.2,4010.2,3983.0,3955.0,3927.8,3899.8,3872.6,3844.6,3817.4,3790.2,3762.2,3735.0], "format": ".2f", "labelOverlap": false, "labelFlush": false, "labelFontSize": 6, "labelFont": "Liberation Sans", "labelColor": "#333333", "labelPadding": 2, "tickSize": 2, "tickColor": "#555555", "domainColor": "#777777"}}, "x2": {"field": "x2"}, "y2": {"field": "p2"}}},
{"data": {"name": "ptitle"}, "mark": {"type": "text", "align": "center", "fontSize": 10, "font": "Liberation Sans"}, "encoding": {"y": {"field": "p", "type": "quantitative", "scale": {"domain": [3732.24, 4326.65], "nice": false, "zero": false}, "axis": {"title": null, "orient": "right", "grid": false, "values": [4314.2,4286.2,4259.0,4231.0,4203.8,4175.8,4148.6,4120.6,4093.4,4065.4,4038.2,4010.2,3983.0,3955.0,3927.8,3899.8,3872.6,3844.6,3817.4,3790.2,3762.2,3735.0], "format": ".2f", "labelOverlap": false, "labelFlush": false, "labelFontSize": 6, "labelFont": "Liberation Sans", "labelColor": "#333333", "labelPadding": 2, "tickSize": 2, "tickColor": "#555555", "domainColor": "#777777"}}, "text": {"field": "label"}}},
{"data": {"name": "pbtn"}, "mark": {"type": "text", "align": "center", "fontSize": 7.2, "font": "Liberation Sans"}, "encoding": {"y": {"field": "p", "type": "quantitative", "scale": {"domain": [3732.24, 4326.65], "nice": false, "zero": false}, "axis": {"title": null, "orient": "right", "grid": false, "values": [4314.2,4286.2,4259.0,4231.0,4203.8,4175.8,4148.6,4120.6,4093.4,4065.4,4038.2,4010.2,3983.0,3955.0,3927.8,3899.8,3872.6,3844.6,3817.4,3790.2,3762.2,3735.0], "format": ".2f", "labelOverlap": false, "labelFlush": false, "labelFontSize": 6, "labelFont": "Liberation Sans", "labelColor": "#333333", "labelPadding": 2, "tickSize": 2, "tickColor": "#555555", "domainColor": "#777777"}}, "text": {"field": "label"}}},
{"data": {"name": "pleft"}, "mark": {"type": "text", "align": "left", "fontSize": 7, "font": "Liberation Sans"}, "encoding": {"y": {"field": "p", "type": "quantitative", "scale": {"domain": [3732.24, 4326.65], "nice": false, "zero": false}, "axis": {"title": null, "orient": "right", "grid": false, "values": [4314.2,4286.2,4259.0,4231.0,4203.8,4175.8,4148.6,4120.6,4093.4,4065.4,4038.2,4010.2,3983.0,3955.0,3927.8,3899.8,3872.6,3844.6,3817.4,3790.2,3762.2,3735.0], "format": ".2f", "labelOverlap": false, "labelFlush": false, "labelFontSize": 6, "labelFont": "Liberation Sans", "labelColor": "#333333", "labelPadding": 2, "tickSize": 2, "tickColor": "#555555", "domainColor": "#777777"}}, "text": {"field": "label"}}},
{"data": {"name": "info"}, "mark": {"type": "text", "align": "left", "fontSize": 7.6, "font": "Liberation Sans"}, "encoding": {"y": {"field": "p", "type": "quantitative", "scale": {"domain": [3732.24, 4326.65], "nice": false, "zero": false}, "axis": {"title": null, "orient": "right", "grid": false, "values": [4314.2,4286.2,4259.0,4231.0,4203.8,4175.8,4148.6,4120.6,4093.4,4065.4,4038.2,4010.2,3983.0,3955.0,3927.8,3899.8,3872.6,3844.6,3817.4,3790.2,3762.2,3735.0], "format": ".2f", "labelOverlap": false, "labelFlush": false, "labelFontSize": 6, "labelFont": "Liberation Sans", "labelColor": "#333333", "labelPadding": 2, "tickSize": 2, "tickColor": "#555555", "domainColor": "#777777"}}, "text": {"field": "label"}}},
{"data": {"name": "inforight"}, "mark": {"type": "text", "align": "right", "fontSize": 7.6, "font": "Liberation Sans"}, "encoding": {"y": {"field": "p", "type": "quantitative", "scale": {"domain": [3732.24, 4326.65], "nice": false, "zero": false}, "axis": {"title": null, "orient": "right", "grid": false, "values": [4314.2,4286.2,4259.0,4231.0,4203.8,4175.8,4148.6,4120.6,4093.4,4065.4,4038.2,4010.2,3983.0,3955.0,3927.8,3899.8,3872.6,3844.6,3817.4,3790.2,3762.2,3735.0], "format": ".2f", "labelOverlap": false, "labelFlush": false, "labelFontSize": 6, "labelFont": "Liberation Sans", "labelColor": "#333333", "labelPadding": 2, "tickSize": 2, "tickColor": "#555555", "domainColor": "#777777"}}, "text": {"field": "label"}}},
{"data": {"name": "ctext"}, "mark": {"type": "text", "align": "center", "fontSize": 5.4, "font": "Liberation Sans"}, "encoding": {"y": {"field": "p", "type": "quantitative", "scale": {"domain": [3732.24, 4326.65], "nice": false, "zero": false}, "axis": {"title": null, "orient": "right", "grid": false, "values": [4314.2,4286.2,4259.0,4231.0,4203.8,4175.8,4148.6,4120.6,4093.4,4065.4,4038.2,4010.2,3983.0,3955.0,3927.8,3899.8,3872.6,3844.6,3817.4,3790.2,3762.2,3735.0], "format": ".2f", "labelOverlap": false, "labelFlush": false, "labelFontSize": 6, "labelFont": "Liberation Sans", "labelColor": "#333333", "labelPadding": 2, "tickSize": 2, "tickColor": "#555555", "domainColor": "#777777"}}, "text": {"field": "label"}}}
]
}
